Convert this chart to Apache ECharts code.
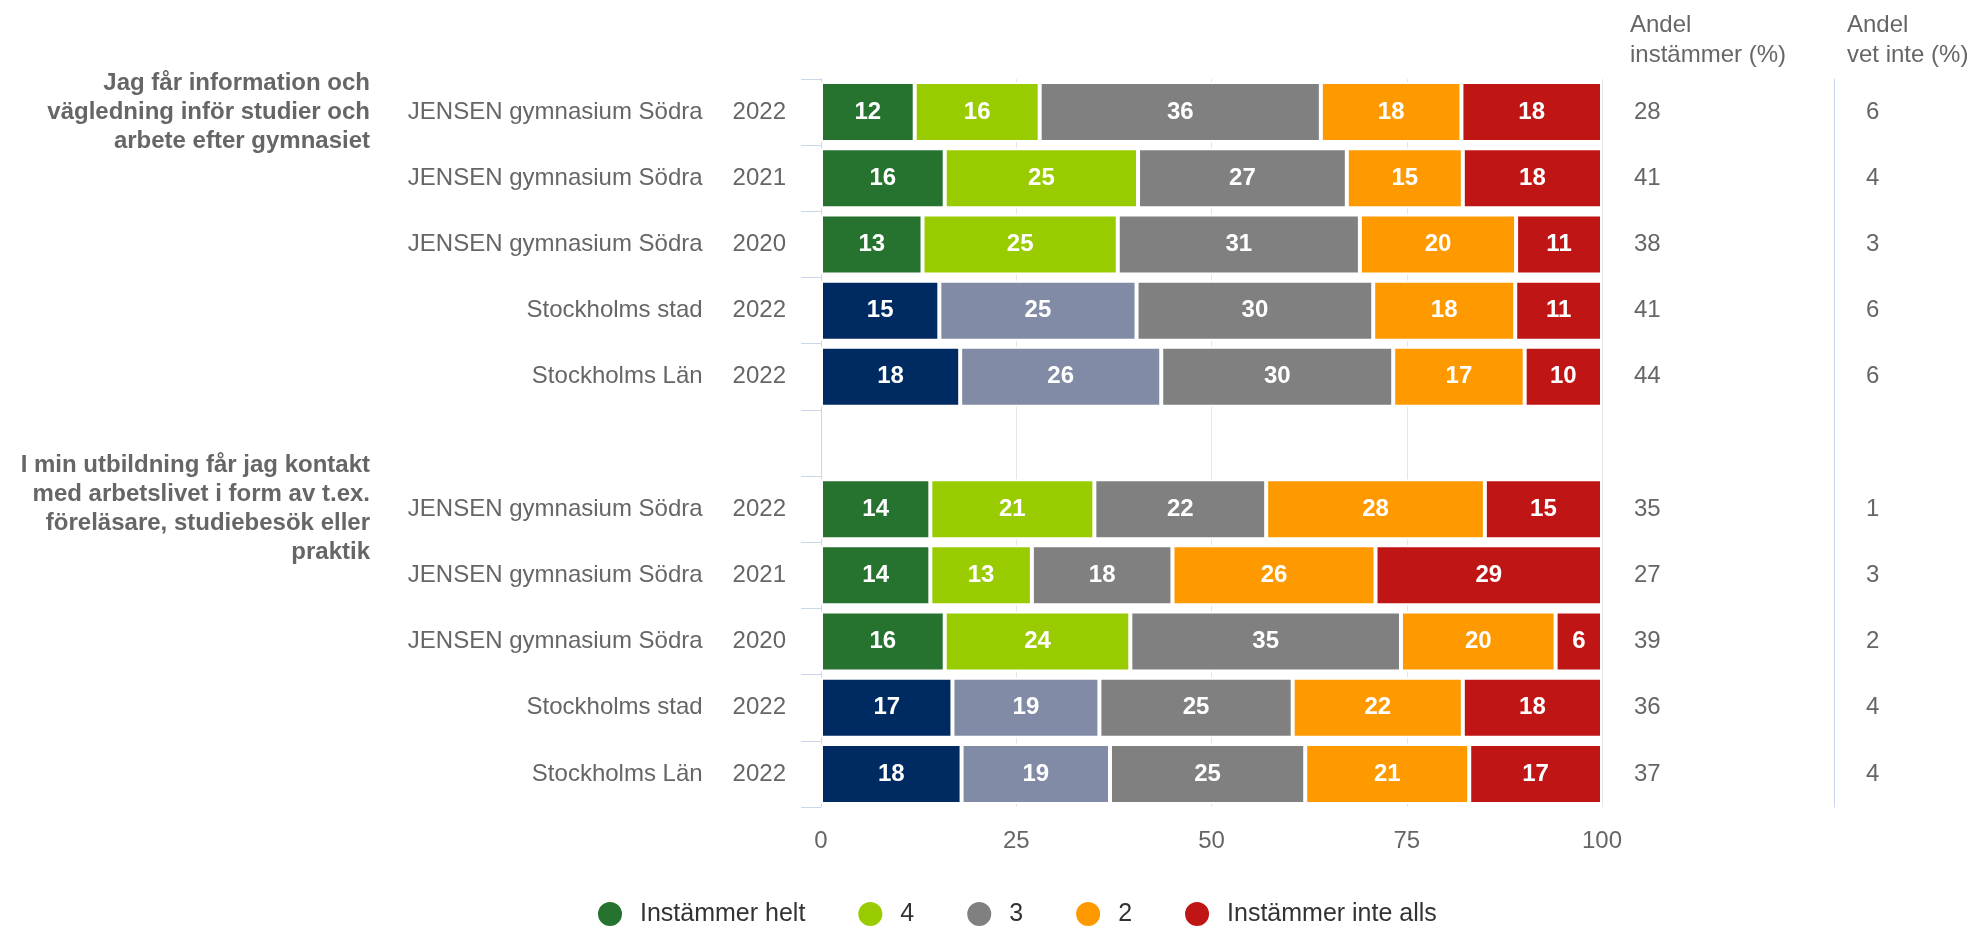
<!DOCTYPE html>
<html>
<head>
	<meta charset="UTF-8">
	<title></title>
	<script src="https://cdn.jsdelivr.net/npm/echarts@6/dist/echarts.min.js"></script>
	<style>
		html, body { margin: 0; padding: 0; background: #fff; }
	</style>
</head>
<body>
	<div id="main" style="width: 1981px;height:926px;"></div>
	<script type="text/javascript">
		// rader uppifrån, index 5 är luckan mellan frågorna
		var rowNames = ['JENSEN gymnasium Södra', 'JENSEN gymnasium Södra', 'JENSEN gymnasium Södra', 'Stockholms stad', 'Stockholms Län', '',
			'JENSEN gymnasium Södra', 'JENSEN gymnasium Södra', 'JENSEN gymnasium Södra', 'Stockholms stad', 'Stockholms Län'];
		var rowYears = ['2022', '2021', '2020', '2022', '2022', '', '2022', '2021', '2020', '2022', '2022'];
		var regionRow = [false, false, false, true, true, false, false, false, false, true, true];
		var groupLabels = ['Jag får information och\nvägledning inför studier och\narbete efter gymnasiet', '', '', '', '', '',
			'I min utbildning får jag kontakt\nmed arbetslivet i form av t.ex.\nföreläsare, studiebesök eller\npraktik', '', '', '', ''];

		var seriesNames = ['Instämmer helt', '4', '3', '2', 'Instämmer inte alls'];
		var helt     = [12, 16, 13, 15, 18, null, 14, 14, 16, 17, 18];
		var fyra     = [16, 25, 25, 25, 26, null, 21, 13, 24, 19, 19];
		var tre      = [36, 27, 31, 30, 30, null, 22, 18, 35, 25, 25];
		var tva      = [18, 15, 20, 18, 17, null, 28, 26, 20, 22, 21];
		var inteAlls = [18, 18, 11, 11, 10, null, 15, 29, 6, 18, 17];

		var andelInstammer = [28, 41, 38, 41, 44, '', 35, 27, 39, 36, 37];
		var andelVetInte   = [6, 4, 3, 6, 6, '', 1, 3, 2, 4, 4];

		var colors = ['#267330', '#99cc00', '#808080', '#ff9900', '#bf1515'];
		var regionColors = ['#002b62', '#828ba6'];
		var xTicks = [0, 25, 50, 75, 100];

		var font = 'Liberation Sans, Arial, sans-serif';
		var grey = '#666666';
		var lineCol = '#ccd6eb';

		var allValues = [helt, fyra, tre, tva, inteAlls];
		// procentstapling som i originalet: varje rad fyller 0-100
		var rowSums = rowNames.map(function(n, i) {
			var s = 0;
			allValues.forEach(function(arr) { s += arr[i] || 0; });
			return s;
		});
		var cats = rowNames.map(function(n, i) { return String(i); });

		var myChart = echarts.init(document.getElementById('main'), null, { renderer: 'canvas' });

		var series = allValues.map(function(arr, k) {
			return {
				name: seriesNames[k],
				type: 'bar',
				stack: 'svar',
				barWidth: 60,
				itemStyle: { color: colors[k], borderColor: '#fff', borderWidth: 2 },
				label: {
					show: true,
					position: 'inside',
					color: '#fff',
					fontWeight: 'bold',
					fontSize: 24,
					fontFamily: font,
					formatter: function(p) { return arr[p.dataIndex]; }
				},
				data: arr.map(function(v, i) {
					if (v === null) return '-';
					var item = { value: v / rowSums[i] * 100 };
					if (regionRow[i] && k < 2) item.itemStyle = { color: regionColors[k] };
					return item;
				})
			};
		});

		var option = {
			animation: false,
			backgroundColor: '#fff',
			textStyle: { fontFamily: font },
			title: [{
				text: 'Andel\ninstämmer (%)',
				left: 1630, top: 10, padding: 0,
				textStyle: { fontSize: 24, fontWeight: 'normal', color: grey, lineHeight: 30, fontFamily: font }
			}, {
				text: 'Andel\nvet inte (%)',
				left: 1847, top: 10, padding: 0,
				textStyle: { fontSize: 24, fontWeight: 'normal', color: grey, lineHeight: 30, fontFamily: font }
			}],
			legend: {
				data: seriesNames,
				icon: 'circle',
				itemWidth: 26,
				itemHeight: 26,
				itemGap: 51,
				left: 596,
				top: 900,
				padding: 0,
				textStyle: { fontSize: 25, color: '#333', fontFamily: font, padding: [0, 0, 0, 12] }
			},
			grid: {
				left: 821, right: 379, top: 79, bottom: 119,
				containLabel: false,
				outerBoundsMode: 'none'
			},
			xAxis: {
				type: 'value',
				min: 0, max: 100, interval: 25,
				axisLine: { show: false },
				axisTick: { show: false },
				splitLine: { lineStyle: { color: '#e6e6e6', width: 1 } },
				axisLabel: {
					fontSize: 24, color: grey, margin: 22, fontFamily: font,
					formatter: function(v) { return xTicks.indexOf(v) >= 0 ? String(v) : ''; }
				}
			},
			yAxis: [{
				type: 'category',
				data: cats,
				inverse: true,
				position: 'left',
				axisLine: { show: true, lineStyle: { color: lineCol, width: 1 } },
				axisTick: { show: true, length: 20, lineStyle: { color: lineCol } },
				splitLine: { show: false },
				axisLabel: {
					interval: 0,
					margin: 35,
					formatter: function(v, i) {
						if (!rowNames[i]) return '';
						return '{n|' + rowNames[i] + '}{y|' + rowYears[i] + '}';
					},
					rich: {
						n: { fontSize: 24, color: grey, fontFamily: font },
						y: { fontSize: 24, color: grey, fontFamily: font, padding: [0, 0, 0, 30] }
					}
				}
			}, {
				type: 'category',
				data: cats,
				inverse: true,
				position: 'left',
				axisLine: { show: false },
				axisTick: { show: false },
				axisLabel: {
					interval: 0,
					margin: 451,
					align: 'right',
					fontSize: 24,
					fontWeight: 'bold',
					lineHeight: 29,
					color: grey,
					fontFamily: font,
					formatter: function(v, i) { return groupLabels[i]; }
				}
			}, {
				type: 'category',
				data: cats,
				inverse: true,
				position: 'right',
				axisLine: { show: false },
				axisTick: { show: false },
				axisLabel: {
					interval: 0, margin: 32, align: 'left',
					fontSize: 24, color: grey, fontFamily: font,
					formatter: function(v, i) { return String(andelInstammer[i]); }
				}
			}, {
				type: 'category',
				data: cats,
				inverse: true,
				position: 'right',
				offset: 232,
				axisLine: { show: true, lineStyle: { color: lineCol, width: 1 } },
				axisTick: { show: false },
				axisLabel: {
					interval: 0, margin: 32, align: 'left',
					fontSize: 24, color: grey, fontFamily: font,
					formatter: function(v, i) { return String(andelVetInte[i]); }
				}
			}],
			series: series
		};

		myChart.setOption(option);
	</script>
</body>
</html>
